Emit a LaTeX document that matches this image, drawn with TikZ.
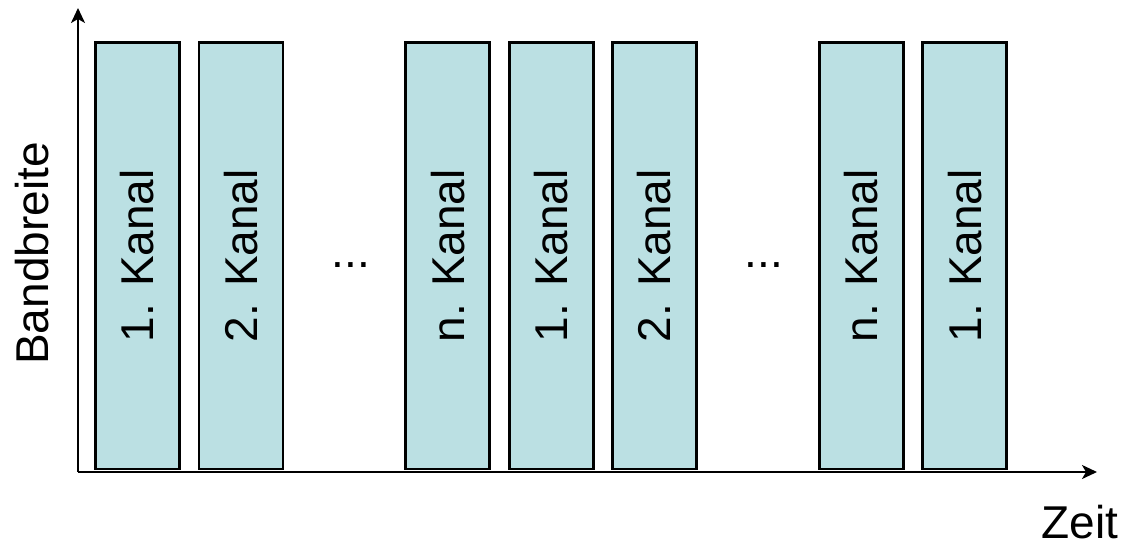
\documentclass[tikz,border=0pt]{standalone}
\usepackage{fontspec}
\setmainfont{Liberation Sans}
\usetikzlibrary{arrows.meta}
\definecolor{barfill}{RGB}{187,224,227}
\begin{document}
\begin{tikzpicture}[x=1pt,y=-1pt,
  bar/.style={draw=black,line width=2.8pt,fill=barfill,minimum width=84pt,minimum height=426.5pt,inner sep=0pt,outer sep=0pt},
  lbl/.style={font=\fontsize{46}{55}\selectfont,inner sep=0pt},
  axis/.style={line width=2pt,-{Stealth[length=15pt,width=14pt,inset=4pt]}}]
\useasboundingbox (0,0) rectangle (1124,543);
\foreach \k/\t [count=\i] in {0/1,1/2,3/n,4/1,5/2,7/n,8/1}{
  \node[bar] (b\i) at ({137.5+\k*103.4},255.75) {};
  \node[lbl,rotate=90] (t\i) at (b\i.center) {\t. Kanal};
}
\node[lbl,anchor=base] (d1) at (351,267) {...};
\node[lbl,anchor=base] (d2) at (764,267) {...};
\coordinate (o) at (78,472);
\coordinate (ytop) at (78,8);
\coordinate (xend) at (1097,472);
\draw[axis] (o) -- (ytop);
\draw[axis] (o) -- (xend);
\node[lbl,rotate=90] (yl) at (32,253.5) {Bandbreite};
\node[lbl] (xl) at (1080,522) {Zeit};
\end{tikzpicture}
\end{document}
